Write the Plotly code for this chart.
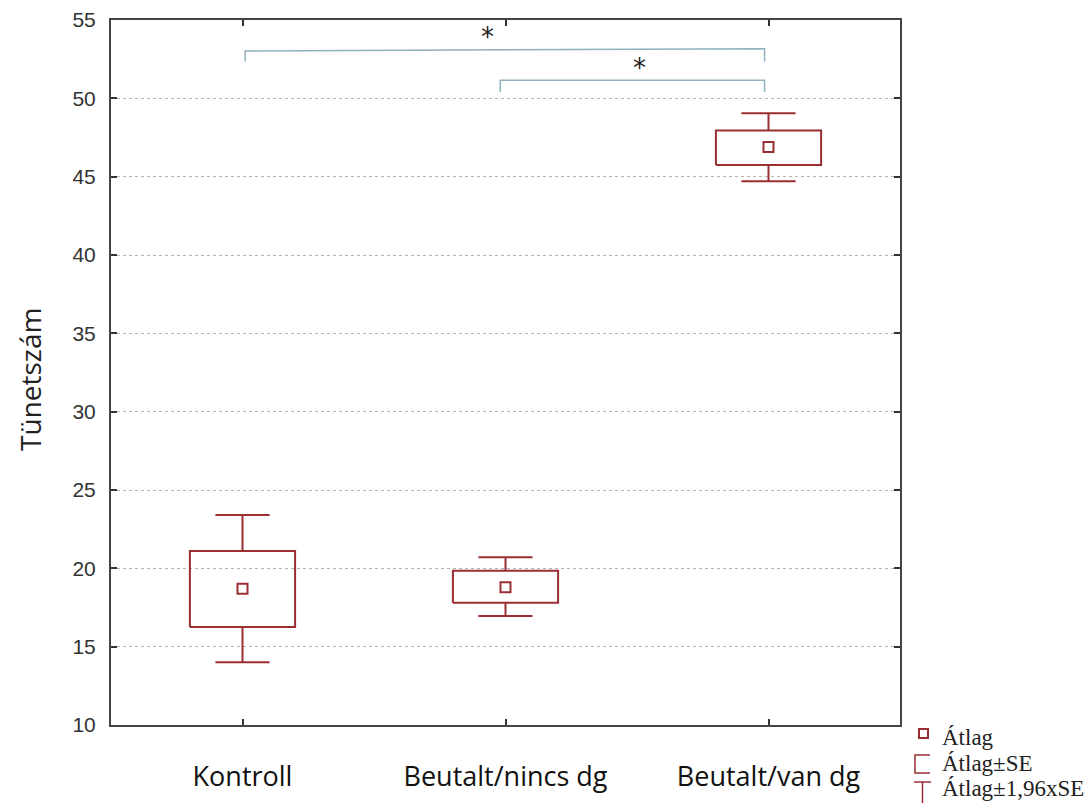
import plotly.graph_objects as go

# ---- data ----
categories = ["Kontroll", "Beutalt/nincs dg", "Beutalt/van dg"]
means = [18.7, 18.8, 46.9]
se_low = [16.25, 17.8, 45.75]
se_high = [21.1, 19.85, 47.95]
ci_low = [14.0, 16.95, 44.7]
ci_high = [23.4, 20.7, 49.05]
y_ticks = [10, 15, 20, 25, 30, 35, 40, 45, 50, 55]

# significance brackets: (from, to, level at left, level at right, tick bottom, star x, star y)
brackets = [
    (0.01, 1.985, 53.02, 53.17, 52.35, 0.93, 53.9),
    (0.98, 1.985, 51.15, 51.15, 50.4, 1.51, 51.95),
]

legend_labels = ["Átlag", "Átlag±SE", "Átlag±1,96xSE"]

RED = "#9a2f33"
BR = "#8fb2be"
box_half = 0.2
cap_half = 0.103

fig = go.Figure()

for i, c in enumerate(categories):
    fig.add_trace(go.Scatter(
        x=[i - box_half, i + box_half, i + box_half, i - box_half, i - box_half],
        y=[se_low[i], se_low[i], se_high[i], se_high[i], se_low[i]],
        mode="lines", line=dict(color=RED, width=2), showlegend=False, hoverinfo="skip"))
    fig.add_trace(go.Scatter(
        x=[i, i, None, i - cap_half, i + cap_half, None, i, i, None, i - cap_half, i + cap_half],
        y=[se_high[i], ci_high[i], None, ci_high[i], ci_high[i], None,
           se_low[i], ci_low[i], None, ci_low[i], ci_low[i]],
        mode="lines", line=dict(color=RED, width=2), showlegend=False, hoverinfo="skip"))

fig.add_trace(go.Scatter(
    x=list(range(len(categories))), y=means, mode="markers",
    marker=dict(symbol="square-open", size=10, color=RED, line=dict(width=2, color=RED)),
    showlegend=False))

for (a, b, lvl_a, lvl_b, bot, sx, sy) in brackets:
    fig.add_trace(go.Scatter(
        x=[a, a, b, b], y=[bot, lvl_a, lvl_b, bot], mode="lines",
        line=dict(color=BR, width=1.5), showlegend=False, hoverinfo="skip"))
    fig.add_annotation(x=sx, y=sy, xref="x", yref="y", text="*", showarrow=False,
                       font=dict(family="DejaVu Sans", size=26, color="#222"))

L, T, W, H = 111, 20, 789, 705
def px(X):
    return (X - L) / W
def py(Y):
    return (T + H - Y) / H

shapes = []
shapes.append(dict(type="rect", xref="paper", yref="paper",
                   x0=px(919), x1=px(928), y0=py(738), y1=py(729),
                   line=dict(color=RED, width=2)))
shapes.append(dict(type="path", xref="paper", yref="paper",
                   path=f"M {px(930)} {py(755)} L {px(915)} {py(755)} L {px(915)} {py(773)} L {px(930)} {py(773)}",
                   line=dict(color=RED, width=1.5)))
shapes.append(dict(type="path", xref="paper", yref="paper",
                   path=f"M {px(914)} {py(782)} L {px(931)} {py(782)} M {px(922.5)} {py(782)} L {px(922.5)} {py(805)}",
                   line=dict(color=RED, width=1.5)))
for lab, yy in zip(legend_labels, [738, 763, 789]):
    fig.add_annotation(x=px(940), y=py(yy), xref="paper", yref="paper", text=lab,
                       xanchor="left", yanchor="middle", showarrow=False,
                       font=dict(family="Liberation Serif", size=23, color="#222"))

fig.add_annotation(x=px(30), y=py(380), xref="paper", yref="paper", text="Tünetszám",
                   textangle=-90, showarrow=False, xanchor="center", yanchor="middle",
                   font=dict(family="Open Sans", size=28, color="#222"))

fig.update_layout(
    width=1089, height=803, autosize=False,
    margin=dict(l=L, r=1089 - L - W, t=T, b=803 - T - H, autoexpand=False),
    paper_bgcolor="white", plot_bgcolor="white",
    shapes=shapes,
    xaxis=dict(range=[-0.5, 2.5], tickvals=list(range(len(categories))), ticktext=categories,
               ticks="inside", ticklen=6, tickwidth=1.5, tickcolor="#333",
               showline=True, linecolor="#444", linewidth=2, mirror="ticks",
               showgrid=False, zeroline=False, ticklabelstandoff=27, automargin=False,
               tickfont=dict(family="Open Sans", size=27, color="#111")),
    yaxis=dict(range=[10, 55], tickvals=y_ticks, ticks="inside", ticklen=6, tickwidth=1.5,
               tickcolor="#333", showline=True, linecolor="#444", linewidth=2, mirror="ticks",
               showgrid=True, gridcolor="#b5b5b5", griddash="dot", gridwidth=1,
               zeroline=False, ticklabelstandoff=9, automargin=False,
               tickfont=dict(family="Liberation Sans", size=21, color="#333")),
)

fig.write_html("out.html", config={"displayModeBar": False},
               post_script="document.body.style.margin='0';document.body.style.overflow='hidden';")
